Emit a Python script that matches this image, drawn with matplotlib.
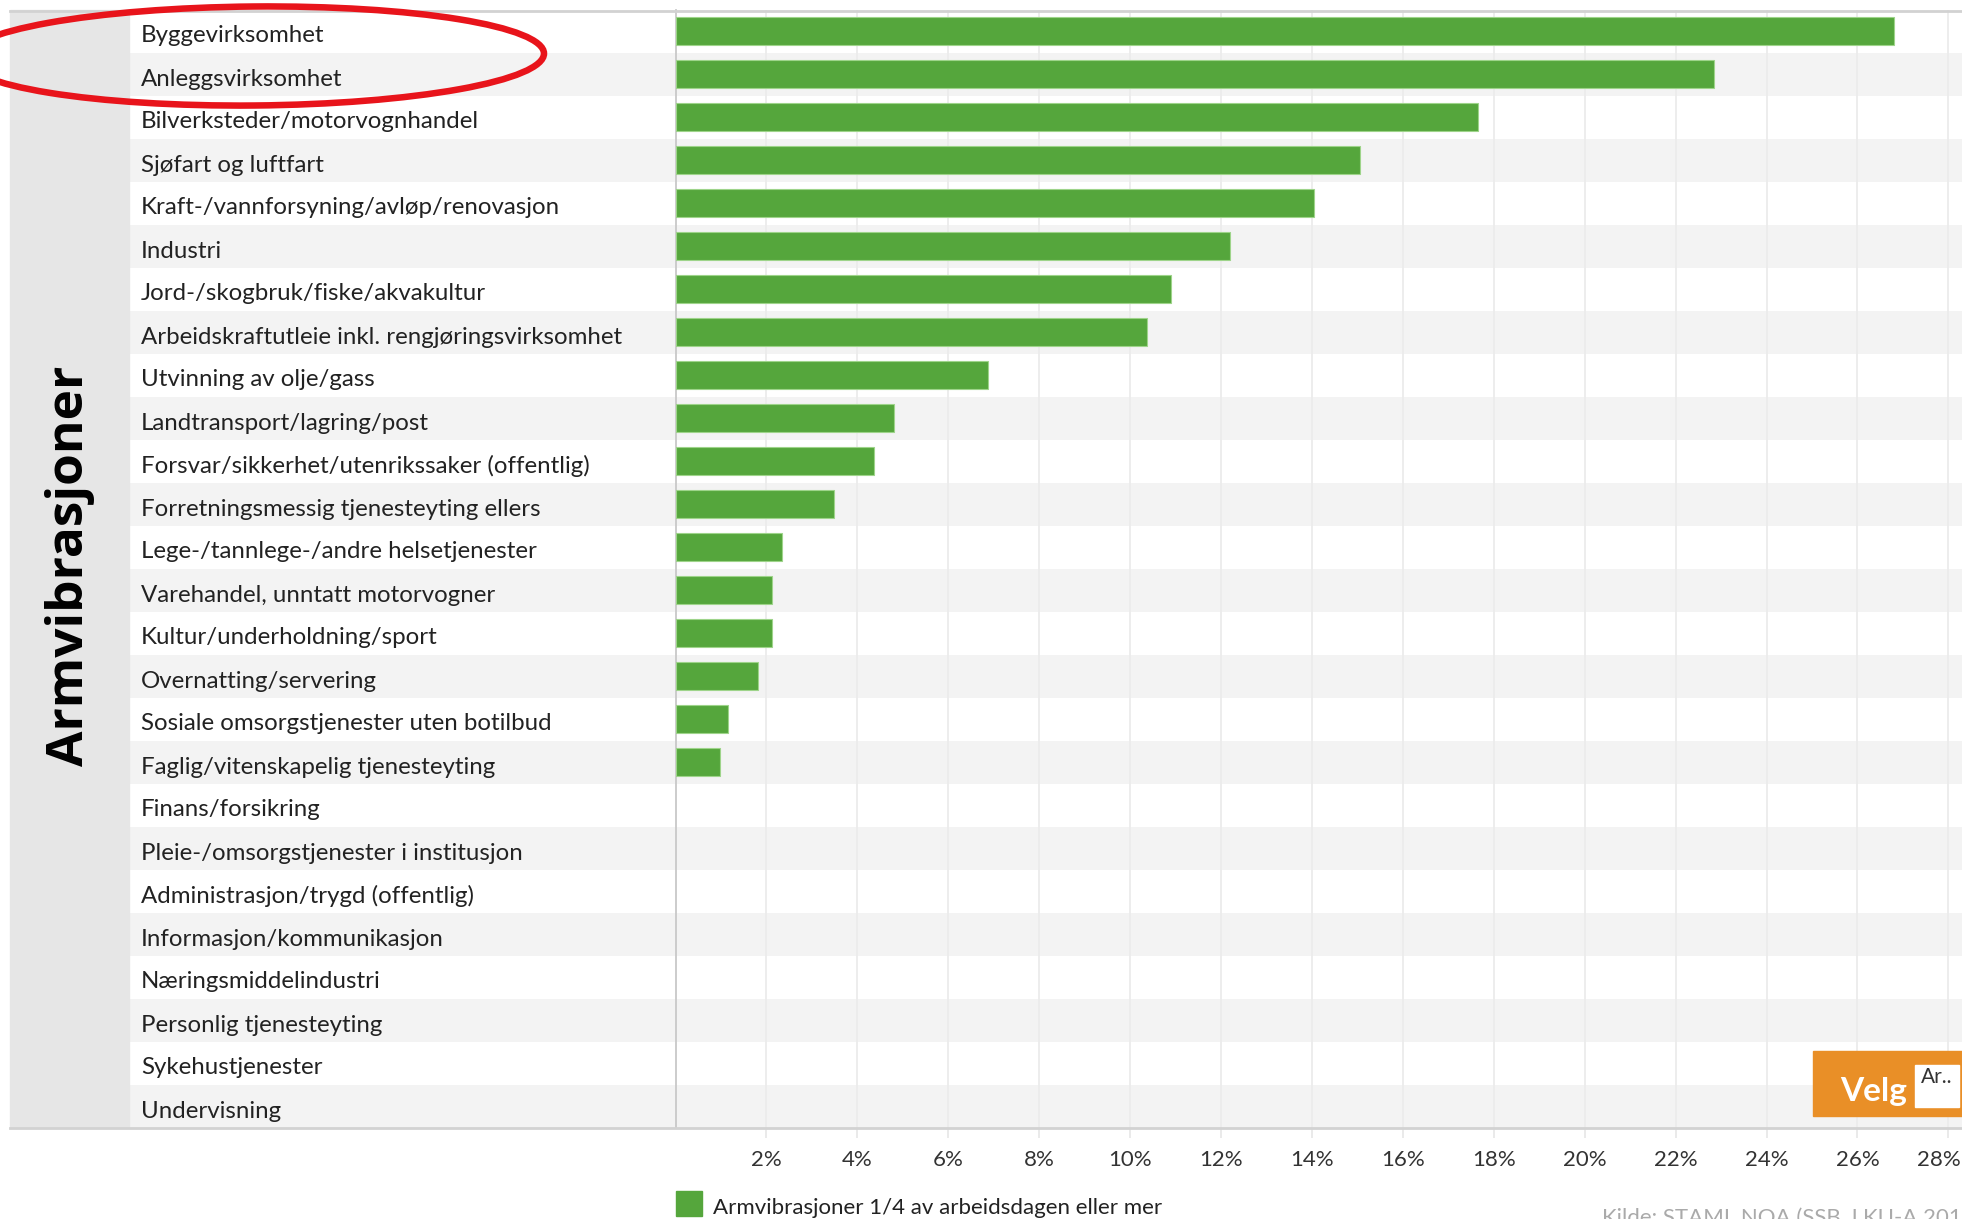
import matplotlib
matplotlib.use("Agg")
import matplotlib.pyplot as plt
from matplotlib.patches import Ellipse, Rectangle
from matplotlib.lines import Line2D
from matplotlib.transforms import blended_transform_factory, ScaledTranslation

plt.rcParams['font.family'] = ['Lato', 'DejaVu Sans']

bransjer = [
    "Byggevirksomhet",
    "Anleggsvirksomhet",
    "Bilverksteder/motorvognhandel",
    "Sjøfart og luftfart",
    "Kraft-/vannforsyning/avløp/renovasjon",
    "Industri",
    "Jord-/skogbruk/fiske/akvakultur",
    "Arbeidskraftutleie inkl. rengjøringsvirksomhet",
    "Utvinning av olje/gass",
    "Landtransport/lagring/post",
    "Forsvar/sikkerhet/utenrikssaker (offentlig)",
    "Forretningsmessig tjenesteyting ellers",
    "Lege-/tannlege-/andre helsetjenester",
    "Varehandel, unntatt motorvogner",
    "Kultur/underholdning/sport",
    "Overnatting/servering",
    "Sosiale omsorgstjenester uten botilbud",
    "Faglig/vitenskapelig tjenesteyting",
    "Finans/forsikring",
    "Pleie-/omsorgstjenester i institusjon",
    "Administrasjon/trygd (offentlig)",
    "Informasjon/kommunikasjon",
    "Næringsmiddelindustri",
    "Personlig tjenesteyting",
    "Sykehustjenester",
    "Undervisning",
]
andel = [26.8, 22.85, 17.65, 15.05, 14.05, 12.2, 10.9, 10.38, 6.87, 4.8,
         4.36, 3.48, 2.34, 2.13, 2.13, 1.82, 1.16, 0.98,
         0, 0, 0, 0, 0, 0, 0, 0]
xticks = list(range(2, 29, 2))
serie_navn = "Armvibrasjoner 1/4 av arbeidsdagen eller mer"
tittel = "Armvibrasjoner"
kilde = "Kilde: STAMI, NOA (SSB, LKU-A 2016)"

W, H = 1962, 1219
fig = plt.figure(figsize=(W / 100, H / 100), dpi=100)

top_px, bot_px = 9.5, 1127.5
ax_bottom = 1 - bot_px / H
ax_height = (bot_px - top_px) / H
n = len(bransjer)
ys = list(range(n))

# grå panel til venstre
fig.patches.append(Rectangle((10 / W, ax_bottom), (129 - 10) / W, ax_height,
                             transform=fig.transFigure, color='#e6e6e6', zorder=0))

# bakgrunn med annenhver rad grå
bg = fig.add_axes([129 / W, ax_bottom, 1 - 129 / W, ax_height])
bg.set_xlim(0, 1)
bg.set_ylim(n - 0.5, -0.5)
for i in ys:
    if i % 2 == 1:
        bg.axhspan(i - 0.5, i + 0.5, color='#f3f3f3', lw=0)
bg.axis('off')

left = 675.5 / W
ax = fig.add_axes([left, ax_bottom, 1 - left, ax_height])
ax.set_facecolor('none')
kanter = ['#9ed48a' if v > 0 else 'none' for v in andel]
ax.barh(ys, andel, height=0.64, color='#55a63c', edgecolor=kanter, linewidth=0.8, zorder=3)
ax.set_ylim(n - 0.5, -0.5)
ax.set_xlim(0, 28.3)
ax.set_xticks(xticks, [f"{v}%" for v in xticks])
ax.set_yticks([])
ax.tick_params(axis='x', length=7, color='#e6e6e6', width=1.2, pad=9, labelsize=16, labelcolor='#333333')
siste = ax.get_xticklabels()[-1]
siste.set_horizontalalignment('right')
siste.set_transform(siste.get_transform() + ScaledTranslation(0.12, 0, fig.dpi_scale_trans))
ax.grid(axis='x', color='#ececec', lw=1.3, zorder=0)
for s in ['top', 'right', 'bottom']:
    ax.spines[s].set_visible(False)
ax.spines['left'].set_color('#c8c8c8')
ax.spines['left'].set_linewidth(1.3)

# radetiketter
trans = blended_transform_factory(fig.transFigure, ax.transData) + ScaledTranslation(0, -0.05, fig.dpi_scale_trans)
for y, navn in zip(ys, bransjer):
    fig.text(141 / W, y, navn, transform=trans, ha='left', va='center', fontsize=17.3, color='#222222')

# kantlinjer topp og bunn
for yp in (top_px + 1, bot_px):
    fig.lines.append(Line2D([10 / W, 1], [1 - yp / H, 1 - yp / H], transform=fig.transFigure,
                            color='#d2d2d2', lw=2))

fig.text(70 / W, 1 - 566 / H, tittel, rotation=90, ha='center', va='center',
         fontsize=37, fontweight='bold', family=['Open Sans', 'DejaVu Sans'])

# tegnforklaring
fig.patches.append(Rectangle((676 / W, 1 - 1216 / H), 26 / W, 25 / H,
                             transform=fig.transFigure, color='#55a63c'))
fig.text(713 / W, 1 - 1208 / H, serie_navn, ha='left', va='center', fontsize=16, color='#222222')
fig.text(1602 / W, 1 - 1208 / H, kilde, ha='left', va='top', fontsize=16, color='#aaaaaa')

# Velg-boks
fig.patches.append(Rectangle((1813 / W, 1 - 1116 / H), (W - 1813) / W, 65 / H,
                             transform=fig.transFigure, color='#e98f27', zorder=5))
fig.text(1874 / W, 1 - 1092 / H, "Velg", ha='center', va='center', fontsize=24,
         fontweight='bold', color='white', zorder=6)
fig.patches.append(Rectangle((1915 / W, 1 - 1107 / H), 44 / W, 42 / H,
                             transform=fig.transFigure, color='white', zorder=6))
fig.text(1937 / W, 1 - 1067 / H, "Ar..", ha='center', va='top', fontsize=15,
         color='#333333', zorder=7)

# rød ellipse rundt bygg og anlegg
fig.patches.append(Ellipse((2.54, (H - 56) / 100), 5.8, 0.99, angle=0.5,
                           transform=fig.dpi_scale_trans, fill=False,
                           edgecolor='#e8141b', lw=4.7, zorder=10))

fig.savefig("out.png", dpi=100)
